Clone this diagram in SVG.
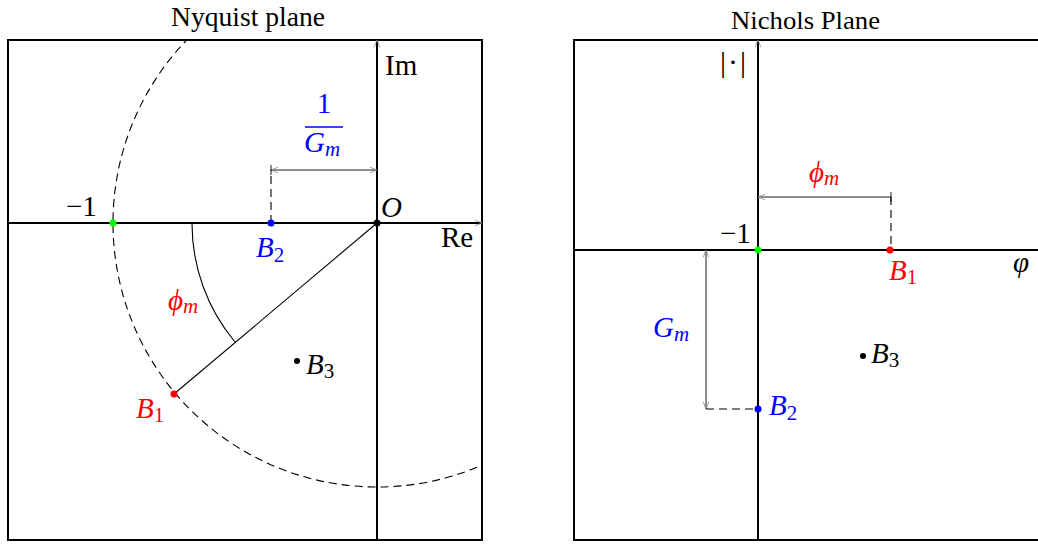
<svg xmlns="http://www.w3.org/2000/svg" width="1038" height="545" viewBox="0 0 1038 545">
<defs>
<style>
.frame{fill:none;stroke:#000;stroke-width:2}
.axis{fill:none;stroke:#000;stroke-width:2}
.thin{fill:none;stroke:#000;stroke-width:1.1}
.dim{fill:none;stroke:#000;stroke-width:0.9}
.dash{fill:none;stroke:#000;stroke-width:1.1;stroke-dasharray:8 5}
text{font-family:"Liberation Serif","Times New Roman",serif;fill:#000}
.t{font-size:29px}
.it{font-style:italic}
.sub{font-size:21px}
.red{fill:#ff0000}
.blue{fill:#0000ff}
</style>
<marker id="tip" viewBox="0 0 10 10" refX="10" refY="5" markerWidth="8" markerHeight="8" markerUnits="userSpaceOnUse" orient="auto-start-reverse">
<path d="M1,1.5 L10,5 L1,8.5" fill="none" stroke="#888" stroke-width="1"/>
</marker>
<clipPath id="clipL"><rect x="8" y="40" width="474" height="500"/></clipPath>
</defs>

<g id="left-panel">
<rect class="frame" x="8" y="40" width="474" height="500"/>
<text x="171" y="26" style="font-size:27px" textLength="154" lengthAdjust="spacingAndGlyphs">Nyquist plane</text>
</g>

<g id="right-panel">
<path class="frame" d="M1040,40 H574 V540 H1040"/>
<text x="731" y="29" style="font-size:25px" textLength="149" lengthAdjust="spacingAndGlyphs">Nichols Plane</text>
</g>

<g id="connectors">
<line class="axis" x1="377" y1="540" x2="377" y2="40" marker-end="url(#tip)"/>
<line class="axis" x1="8" y1="223" x2="482" y2="223" marker-end="url(#tip)"/>
<circle class="dash" cx="377" cy="223" r="264" clip-path="url(#clipL)"/>
<line class="thin" x1="377" y1="223" x2="174" y2="394"/>
<path class="thin" d="M192,223 A185,185 0 0 0 235,342"/>
<line class="dash" x1="271" y1="223" x2="271" y2="170"/>
<line class="dim" x1="271" y1="170" x2="377" y2="170" marker-start="url(#tip)" marker-end="url(#tip)"/>
<line class="dim" x1="271" y1="165" x2="271" y2="175"/>
<line class="axis" x1="758" y1="540" x2="758" y2="40" marker-end="url(#tip)"/>
<line class="axis" x1="574" y1="250" x2="1040" y2="250"/>
<line class="dim" x1="758" y1="197" x2="891" y2="197" marker-start="url(#tip)"/>
<line class="dim" x1="891" y1="192" x2="891" y2="202"/>
<line class="dash" x1="891" y1="197" x2="891" y2="250"/>
<line class="dim" x1="706" y1="250" x2="706" y2="409" marker-start="url(#tip)" marker-end="url(#tip)"/>
<line class="dash" x1="706" y1="409" x2="758" y2="409"/>
</g>

<g id="origin-O">
<circle cx="377" cy="223" r="3.5" fill="#000"/>
<text class="t it" x="381" y="217">O</text>
</g>
<g id="axis-labels-left">
<text class="t" x="385" y="75">Im</text>
<text class="t" x="441" y="247">Re</text>
</g>
<g id="point-minus1-left">
<circle cx="113" cy="223" r="3.5" fill="#00ff00"/>
<text class="t" x="66" y="216">−1</text>
</g>
<g id="label-inv-gm">
<text class="t blue" x="324" y="113" text-anchor="middle">1</text>
<line x1="305" y1="127" x2="343" y2="127" stroke="#0000ff" stroke-width="1.3"/>
<text class="t it blue" x="304" y="152">G<tspan class="sub" dy="4">m</tspan></text>
</g>
<g id="point-B2-left">
<circle cx="271" cy="223" r="3.5" fill="#0000ff"/>
<text class="t it blue" x="256" y="257">B<tspan class="sub" dy="5" font-style="normal">2</tspan></text>
</g>
<g id="point-B1-left">
<circle cx="174" cy="394" r="3.5" fill="#ff0000"/>
<text class="t it red" x="136" y="418">B<tspan class="sub" dy="4" font-style="normal">1</tspan></text>
</g>
<g id="label-phim-left">
<text class="t it red" x="168" y="310">ϕ<tspan class="sub" dy="3">m</tspan></text>
</g>
<g id="point-B3-left">
<circle cx="297" cy="361" r="3" fill="#000"/>
<text class="t it" x="306" y="374">B<tspan class="sub" dy="4" font-style="normal">3</tspan></text>
</g>

<g id="axis-labels-right">
<text class="t" x="720" y="72" style="font-size:30px;letter-spacing:2px">|·|</text>
<text class="t it" x="1013" y="272">φ</text>
</g>
<g id="point-minus1-right">
<circle cx="758" cy="250" r="3.5" fill="#00ff00"/>
<text class="t" x="720" y="243">−1</text>
</g>
<g id="label-phim-right">
<text class="t it red" x="809" y="182">ϕ<tspan class="sub" dy="3">m</tspan></text>
</g>
<g id="point-B1-right">
<circle cx="890" cy="250" r="3.5" fill="#ff0000"/>
<text class="t it red" x="889" y="280">B<tspan class="sub" dy="4" font-style="normal">1</tspan></text>
</g>
<g id="label-gm-right">
<text class="t it blue" x="653" y="337">G<tspan class="sub" dy="4">m</tspan></text>
</g>
<g id="point-B2-right">
<circle cx="758" cy="409" r="3.5" fill="#0000ff"/>
<text class="t it blue" x="769" y="415">B<tspan class="sub" dy="5" font-style="normal">2</tspan></text>
</g>
<g id="point-B3-right">
<circle cx="863" cy="356" r="3" fill="#000"/>
<text class="t it" x="871" y="363">B<tspan class="sub" dy="4" font-style="normal">3</tspan></text>
</g>
</svg>
